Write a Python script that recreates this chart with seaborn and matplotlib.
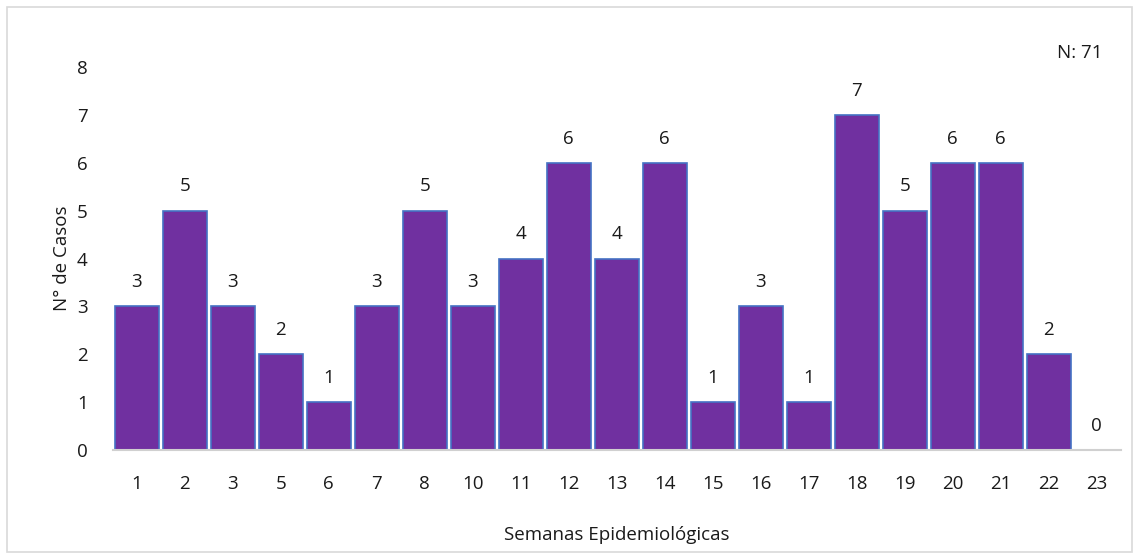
import pandas as pd
import matplotlib.pyplot as plt
import seaborn as sns
from matplotlib.patches import Rectangle

# semanas epidemiologicas y numero de casos
semanas = ['1', '2', '3', '5', '6', '7', '8', '10', '11', '12', '13',
           '14', '15', '16', '17', '18', '19', '20', '21', '22', '23']
casos = [3, 5, 3, 2, 1, 3, 5, 3, 4, 6, 4, 6, 1, 3, 1, 7, 5, 6, 6, 2, 0]
total_label = 'N: 71'

df = pd.DataFrame({'Semana': semanas, 'Casos': casos})

sns.set_style('white')
plt.rcParams['font.family'] = ['Open Sans', 'DejaVu Sans']

fig = plt.figure(figsize=(11.39, 5.59), dpi=100)
ax = fig.add_axes([0.099, 0.195, 0.885, 0.685])

sns.barplot(x='Semana', y='Casos', data=df, color='#7030A0', width=0.92,
            edgecolor='#4472C4', linewidth=1.2, saturation=1, ax=ax)

for i, v in enumerate(casos):
    ax.annotate(str(v), (i, v), xytext=(0, 11), textcoords='offset points',
                ha='center', va='bottom', fontsize=13.5, color='#1a1a1a')

ax.set_ylim(0, 8)
ax.set_xlim(-0.5, len(semanas) - 0.5)
ax.set_yticks(range(0, 9))
ax.tick_params(axis='both', labelsize=13.5, length=0, colors='#1a1a1a')
ax.tick_params(axis='x', pad=18)
ax.tick_params(axis='y', pad=18)
for s in ['top', 'right', 'left']:
    ax.spines[s].set_visible(False)
ax.spines['bottom'].set_color('#d0d0d0')
ax.spines['bottom'].set_linewidth(1.5)

ax.set_xlabel('Semanas Epidemiológicas', fontsize=13.5, labelpad=24, color='#1a1a1a')
ax.set_ylabel('N° de Casos', fontsize=13.5, labelpad=4, color='#1a1a1a')

fig.text(0.928, 0.896, total_label, fontsize=13.5, color='#1a1a1a')

fig.patches.append(Rectangle((0.006, 0.012), 0.988, 0.976, transform=fig.transFigure,
                             fill=False, edgecolor='#d9d9d9', linewidth=1.2))

plt.savefig('out.png', dpi=100)
